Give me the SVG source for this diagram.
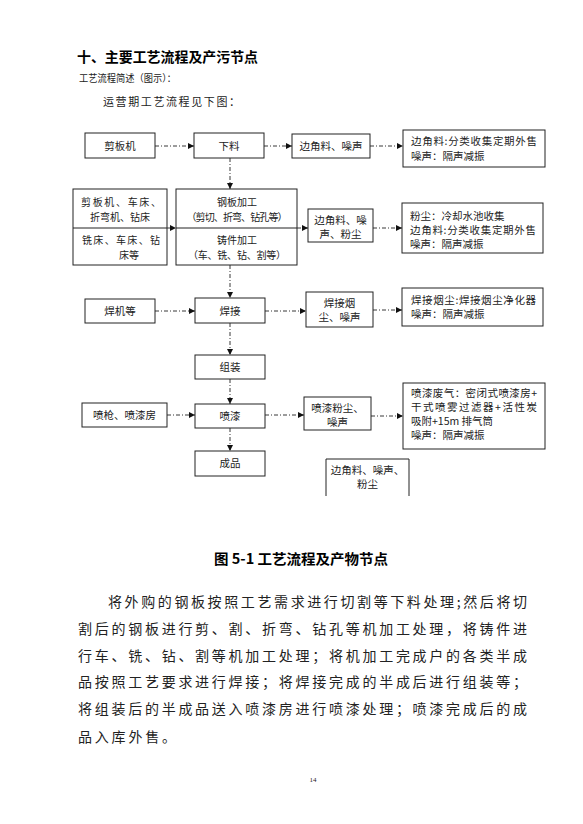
<svg xmlns="http://www.w3.org/2000/svg" width="583" height="824" viewBox="0 0 583 824">
<defs>
<style>
.bx{fill:none;stroke:#222;stroke-width:1}
.t{font-family:"Noto Sans CJK SC","Noto Sans",sans-serif;font-size:10.5px;fill:#222}
.s{font-size:10px}
.tc{text-anchor:middle}
.c{fill:none;stroke:#222;stroke-width:0.9;stroke-dasharray:4 2 1 2}
.h{font-family:"Noto Sans CJK SC","Noto Sans",sans-serif;font-weight:bold;fill:#000}
.p{font-family:"Noto Sans CJK SC","Noto Sans",sans-serif;font-size:14px;fill:#222}
</style>
<marker id="ar" markerWidth="6" markerHeight="6" refX="6" refY="3" orient="auto" markerUnits="userSpaceOnUse">
<path d="M0,0 L6,3 L0,6 z" fill="#111"/>
</marker>
</defs>
<rect width="583" height="824" fill="#fff"/>

<g id="header">
<text class="h" x="77" y="62" font-size="14" textLength="181" lengthAdjust="spacingAndGlyphs">十、主要工艺流程及产污节点</text>
<text class="t" x="79" y="82" style="font-size:10px" textLength="97" lengthAdjust="spacingAndGlyphs">工艺流程简述（图示）：</text>
<text class="t" x="103" y="106" style="font-size:11px" textLength="137" lengthAdjust="spacing">运营期工艺流程见下图：</text>
</g>

<g id="connectors">
<line class="c" x1="155" y1="146" x2="194" y2="146" marker-end="url(#ar)"/>
<line class="c" x1="264" y1="146" x2="292" y2="146" marker-end="url(#ar)"/>
<line class="c" x1="370" y1="146" x2="403" y2="146" marker-end="url(#ar)"/>
<line class="c" x1="230" y1="158" x2="230" y2="189" marker-end="url(#ar)"/>
<line class="c" x1="167" y1="228" x2="176" y2="228" marker-end="url(#ar)"/>
<line class="c" x1="297" y1="228" x2="308" y2="228" marker-end="url(#ar)"/>
<line class="c" x1="373" y1="228" x2="402" y2="228" marker-end="url(#ar)"/>
<line class="c" x1="230" y1="265" x2="230" y2="298" marker-end="url(#ar)"/>
<line class="c" x1="155" y1="311" x2="195" y2="311" marker-end="url(#ar)"/>
<line class="c" x1="265" y1="311" x2="306" y2="311" marker-end="url(#ar)"/>
<line class="c" x1="373" y1="310" x2="402" y2="310" marker-end="url(#ar)"/>
<line class="c" x1="230" y1="323" x2="230" y2="355" marker-end="url(#ar)"/>
<line class="c" x1="230" y1="379" x2="230" y2="404" marker-end="url(#ar)"/>
<line class="c" x1="167" y1="415" x2="195" y2="415" marker-end="url(#ar)"/>
<line class="c" x1="265" y1="415" x2="304" y2="415" marker-end="url(#ar)"/>
<line class="c" x1="371" y1="416" x2="403" y2="416" marker-end="url(#ar)"/>
<line class="c" x1="230" y1="428" x2="230" y2="451" marker-end="url(#ar)"/>
</g>

<g id="n-jianbanji">
<rect class="bx" x="85" y="133" width="70" height="25"/>
<text class="t tc" x="120" y="150">剪板机</text>
</g>
<g id="n-xialiao">
<rect class="bx" x="194" y="133" width="70" height="25"/>
<text class="t tc" x="229" y="150">下料</text>
</g>
<g id="n-bianjiao1">
<rect class="bx" x="292" y="134" width="78" height="24"/>
<text class="t tc" x="331" y="150">边角料、噪声</text>
</g>
<g id="n-treat1">
<rect class="bx" x="403" y="130" width="142" height="37"/>
<text class="t" x="411" y="145" textLength="126" lengthAdjust="spacing">边角料:分类收集定期外售</text>
<text class="t" x="411" y="160">噪声：隔声减振</text>
</g>
<g id="n-machines">
<rect class="bx" x="73" y="189" width="94" height="76"/>
<line class="bx" x1="73" y1="228" x2="167" y2="228"/>
<text class="t s tc" x="121" y="206" textLength="80" lengthAdjust="spacing">剪板机、车床、</text>
<text class="t s tc" x="120" y="221">折弯机、钻床</text>
<text class="t s tc" x="121" y="244" textLength="78" lengthAdjust="spacing">铣床、车床、钻</text>
<text class="t s tc" x="129" y="259">床等</text>
</g>
<g id="n-process">
<rect class="bx" x="176" y="189" width="121" height="76"/>
<line class="bx" x1="176" y1="228" x2="297" y2="228"/>
<text class="t s tc" x="237" y="206">钢板加工</text>
<text class="t s tc" x="237" y="221" textLength="101" lengthAdjust="spacing">（剪切、折弯、钻孔等）</text>
<text class="t s tc" x="237" y="244">铸件加工</text>
<text class="t s tc" x="237" y="259" textLength="98" lengthAdjust="spacing">（车、铣、钻、割等）</text>
</g>
<g id="n-bianjiao2">
<rect class="bx" x="308" y="209" width="65" height="33"/>
<text class="t tc" x="340.5" y="224">边角料、噪</text>
<text class="t tc" x="340.5" y="238">声、粉尘</text>
</g>
<g id="n-treat2">
<rect class="bx" x="402" y="203" width="141" height="50"/>
<text class="t" x="410" y="220">粉尘：冷却水池收集</text>
<text class="t" x="410" y="234" textLength="126" lengthAdjust="spacing">边角料:分类收集定期外售</text>
<text class="t" x="410" y="248">噪声：隔声减振</text>
</g>
<g id="n-hanji">
<rect class="bx" x="85" y="299" width="70" height="24"/>
<text class="t tc" x="120" y="315">焊机等</text>
</g>
<g id="n-hanjie">
<rect class="bx" x="195" y="298" width="70" height="25"/>
<text class="t tc" x="230" y="315">焊接</text>
</g>
<g id="n-yanchen">
<rect class="bx" x="306" y="292" width="67" height="35"/>
<text class="t tc" x="339.5" y="307">焊接烟</text>
<text class="t tc" x="339.5" y="321">尘、噪声</text>
</g>
<g id="n-treat3">
<rect class="bx" x="402" y="288" width="141" height="38"/>
<text class="t" x="411" y="304" textLength="125" lengthAdjust="spacing">焊接烟尘:焊接烟尘净化器</text>
<text class="t" x="411" y="318">噪声：隔声减振</text>
</g>
<g id="n-zuzhuang">
<rect class="bx" x="195" y="355" width="70" height="24"/>
<text class="t tc" x="230" y="371">组装</text>
</g>
<g id="n-penqiang">
<rect class="bx" x="82" y="403" width="85" height="24"/>
<text class="t tc" x="124.5" y="419">喷枪、喷漆房</text>
</g>
<g id="n-penqi">
<rect class="bx" x="195" y="404" width="70" height="24"/>
<text class="t tc" x="230" y="420">喷漆</text>
</g>
<g id="n-penqifenchen">
<rect class="bx" x="304" y="397" width="67" height="33"/>
<text class="t tc" x="337.5" y="412">喷漆粉尘、</text>
<text class="t tc" x="337.5" y="426">噪声</text>
</g>
<g id="n-treat4">
<rect class="bx" x="403" y="383" width="142" height="66"/>
<text class="t" x="411" y="397" textLength="126" lengthAdjust="spacing">喷漆废气：密闭式喷漆房+</text>
<text class="t" x="411" y="411" textLength="126" lengthAdjust="spacing">干式喷雾过滤器+活性炭</text>
<text class="t" x="411" y="425">吸附+15m 排气筒</text>
<text class="t" x="411" y="439">噪声：隔声减振</text>
</g>
<g id="n-chengpin">
<rect class="bx" x="195" y="451" width="70" height="25"/>
<text class="t tc" x="230" y="467">成品</text>
</g>
<g id="n-bianjiao3">
<path class="bx" d="M326,496 V459 H409 V496"/>
<text class="t tc" x="367.5" y="474">边角料、噪声、</text>
<text class="t tc" x="367.5" y="488">粉尘</text>
</g>

<g id="caption">
<text class="h" x="214" y="564" font-size="14" textLength="174" lengthAdjust="spacingAndGlyphs">图 5-1 工艺流程及产物节点</text>
</g>

<g id="paragraph">
<text class="p" x="108" y="607" textLength="419" lengthAdjust="spacing">将外购的钢板按照工艺需求进行切割等下料处理;然后将切</text>
<text class="p" x="78" y="634" textLength="449" lengthAdjust="spacing">割后的钢板进行剪、割、折弯、钻孔等机加工处理，将铸件进</text>
<text class="p" x="78" y="661" textLength="449" lengthAdjust="spacing">行车、铣、钻、割等机加工处理；将机加工完成户的各类半成</text>
<text class="p" x="78" y="687" textLength="449" lengthAdjust="spacing">品按照工艺要求进行焊接；将焊接完成的半成后进行组装等；</text>
<text class="p" x="78" y="714" textLength="449" lengthAdjust="spacing">将组装后的半成品送入喷漆房进行喷漆处理；喷漆完成后的成</text>
<text class="p" x="78" y="742" textLength="98" lengthAdjust="spacing">品入库外售。</text>
</g>

<text x="313" y="782" font-family="Liberation Serif, serif" font-size="7" fill="#222" text-anchor="middle">14</text>
</svg>
